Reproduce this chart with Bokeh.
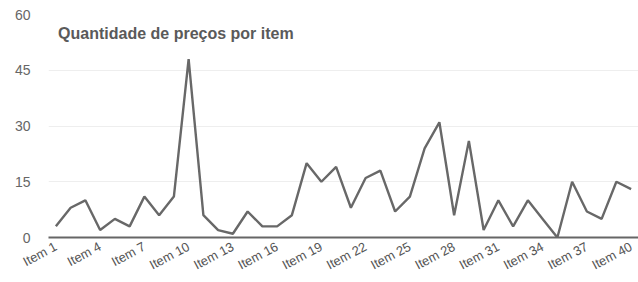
from bokeh.plotting import figure
from bokeh.models import Range1d, FixedTicker, Label
from bokeh.embed import file_html
from bokeh.resources import INLINE
import math

items = list(range(1, 41))
counts = [3, 8, 10, 2, 5, 3, 11, 6, 11, 48,
          6, 2, 1, 7, 3, 3, 6, 20, 15, 19,
          8, 16, 18, 7, 11, 24, 31, 6, 26, 2,
          10, 3, 10, 5, 0, 15, 7, 5, 15, 13]
tick_items = list(range(1, 41, 3))
tick_labels = {i: f"Item {i}" for i in tick_items}
y_ticks = [0, 15, 30, 45, 60]
title_text = "Quantidade de preços por item"

p = figure(width=638, height=282, output_backend="svg", toolbar_location=None,
           x_range=Range1d(0.5, 40.5), y_range=Range1d(0, 60),
           min_border_left=48, min_border_right=0, min_border_top=14,
           min_border_bottom=44)
p.outline_line_color = None
p.background_fill_color = "white"

p.line(items, counts, line_color="#686868", line_width=2.4)

p.xaxis.ticker = FixedTicker(ticks=tick_items)
p.xaxis.major_label_overrides = tick_labels
p.xaxis.major_label_orientation = math.radians(28)
p.xaxis.axis_line_color = "#666666"
p.xaxis.axis_line_width = 2
p.xaxis.major_tick_line_color = None
p.xaxis.major_tick_out = 0
p.xaxis.major_tick_in = 0
p.xaxis.minor_tick_line_color = None
p.xaxis.minor_tick_out = 0
p.xaxis.major_label_text_font = "Liberation Sans"
p.xaxis.major_label_text_font_size = "13px"
p.xaxis.major_label_text_color = "#555555"
p.xaxis.major_label_standoff = 8

p.yaxis.ticker = FixedTicker(ticks=y_ticks)
p.yaxis.axis_line_color = None
p.yaxis.major_tick_line_color = None
p.yaxis.major_tick_out = 0
p.yaxis.major_tick_in = 0
p.yaxis.minor_tick_line_color = None
p.yaxis.minor_tick_out = 0
p.yaxis.major_label_text_font = "Liberation Sans"
p.yaxis.major_label_text_font_size = "14px"
p.yaxis.major_label_text_color = "#666666"
p.yaxis.major_label_standoff = 18

p.xgrid.grid_line_color = None
p.ygrid.grid_line_color = "#eeeeee"

p.add_layout(Label(x=1.15, y=54.9, text=title_text, text_font="Liberation Sans",
                   text_font_style="bold", text_font_size="16px",
                   text_color="#5a5a5a", text_baseline="middle"))

open("out.html", "w").write(file_html(p, INLINE))
